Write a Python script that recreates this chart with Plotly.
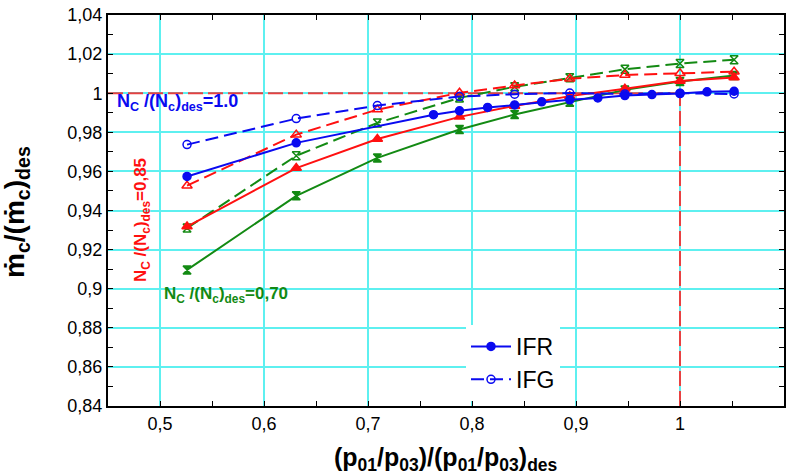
import plotly.graph_objects as go

# Pressure-ratio positions (normalised by design value)
x_blue_ifr = [0.526, 0.631, 0.763, 0.788, 0.815, 0.841, 0.867, 0.894, 0.921, 0.947, 0.973, 1.000, 1.026, 1.052]
x_common = [0.526, 0.631, 0.709, 0.788, 0.841, 0.894, 0.947, 1.000, 1.052]

# Normalised corrected mass flow, Nc/(Nc)des = 1.0
y_blue_ifr = [0.9574, 0.9746, 0.9890, 0.9910, 0.9927, 0.9940, 0.9956, 0.9966, 0.9976, 0.9988, 0.9993, 0.9998, 1.0007, 1.0010]
y_blue_ifg = [0.9737, 0.9870, 0.9937, 0.9983, 0.9995, 1.0001, 0.9996, 1.0000, 0.9996]

# Nc/(Nc)des = 0.85
y_red_ifr = [0.9318, 0.9617, 0.9766, 0.9879, 0.9935, 0.9985, 1.0023, 1.0062, 1.0080]
y_red_ifg = [0.9527, 0.9788, 0.9916, 1.0002, 1.0039, 1.0074, 1.0093, 1.0102, 1.0110]

# Nc/(Nc)des = 0.70
y_green_ifr = [0.9096, 0.9475, 0.9669, 0.9814, 0.9891, 0.9954, 1.0017, 1.0060, 1.0090]
y_green_ifg = [0.9310, 0.9680, 0.9848, 0.9976, 1.0033, 1.0079, 1.0122, 1.0152, 1.0171]

design_point = 1.0

x_tickvals = [0.5, 0.6, 0.7, 0.8, 0.9, 1.0, 1.1]
x_ticktext = ["0,5", "0,6", "0,7", "0,8", "0,9", "1", "1,1"]
y_tickvals = [0.84, 0.86, 0.88, 0.90, 0.92, 0.94, 0.96, 0.98, 1.00, 1.02, 1.04]
y_ticktext = ["0,84", "0,86", "0,88", "0,9", "0,92", "0,94", "0,96", "0,98", "1", "1,02", "1,04"]

BLUE = "#0A0AF0"
RED = "#FF1010"
GREEN = "#138A13"
GRID = "#5EF0F0"
FONT = "Arial, Liberation Sans, sans-serif"
DASH = "13px,6px"

# plot area in pixels (left, right, top, bottom)
L, R, T, B = 108, 784, 15, 406


def px(xp):
    return (xp - L) / (R - L)


def py(yp):
    return (B - yp) / (B - T)


fig = go.Figure()

# design-point guide lines
guide = dict(color="#E84040", width=2, dash="15px,5px")
fig.add_shape(type="line", x0=0.45, x1=design_point, y0=design_point, y1=design_point,
              line=guide, layer="between")
fig.add_shape(type="line", x0=design_point, x1=design_point, y0=0.84, y1=design_point,
              line=guide, layer="between")


def add(x, y, color, symbol, dash, name=None, legend=False, size=8):
    fig.add_trace(go.Scatter(
        x=x, y=y, mode="lines+markers", name=name, showlegend=legend,
        line=dict(color=color, width=2, dash=dash),
        marker=dict(symbol=symbol, size=size, color=color,
                    line=dict(color=color, width=1.5)),
    ))


add(x_common, y_green_ifr, GREEN, "hourglass", "solid")
add(x_common, y_green_ifg, GREEN, "hourglass-open", DASH)
add(x_common, y_red_ifr, RED, "triangle-up", "solid", size=9)
add(x_common, y_red_ifg, RED, "triangle-up-open", DASH, size=9)
add(x_blue_ifr, y_blue_ifr, BLUE, "circle", "solid", name="IFR", legend=True)
add(x_common, y_blue_ifg, BLUE, "circle-open", DASH, name="IFG", legend=True)

# speed-line labels
label = "<b>N<sub>C</sub> /(N<sub>c</sub>)<sub>des</sub>=%s</b>"
fig.add_annotation(xref="paper", yref="paper", x=px(115), y=py(102),
                   xanchor="left", yanchor="middle", showarrow=False,
                   text=label % "1.0", font=dict(family=FONT, size=18, color=BLUE))
fig.add_annotation(xref="paper", yref="paper", x=px(142), y=py(220),
                   xanchor="center", yanchor="middle", showarrow=False, textangle=-90,
                   text=label % "0,85", font=dict(family=FONT, size=17, color=RED))
fig.add_annotation(xref="paper", yref="paper", x=px(162), y=py(295),
                   xanchor="left", yanchor="middle", showarrow=False,
                   text=label % "0,70", font=dict(family=FONT, size=17, color=GREEN))

# axis titles
fig.add_annotation(xref="paper", yref="paper", x=px(446), y=py(459),
                   xanchor="center", yanchor="middle", showarrow=False,
                   text="<b>(p<sub>01</sub>/p<sub>03</sub>)/(p<sub>01</sub>/p<sub>03</sub>)<sub>des</sub></b>",
                   font=dict(family=FONT, size=25, color="black"))
fig.add_annotation(xref="paper", yref="paper", x=px(16), y=py(212),
                   xanchor="center", yanchor="middle", showarrow=False, textangle=-90,
                   text="<b>ṁ<sub>c</sub>/(ṁ<sub>c</sub>)<sub>des</sub></b>",
                   font=dict(family=FONT, size=28, color="black"))

axis_common = dict(
    showline=True, linecolor="black", linewidth=2, mirror="ticks",
    ticks="inside", ticklen=5, tickcolor="black", tickwidth=1,
    showgrid=True, gridcolor=GRID, gridwidth=2, zeroline=False,
    tickfont=dict(family=FONT, size=18, color="black"),
)

fig.update_xaxes(
    range=[0.45, 1.1], tickvals=x_tickvals, ticktext=x_ticktext,
    minor=dict(dtick=0.05, tick0=0.45, ticks="inside", ticklen=5, tickcolor="black", showgrid=False),
    **axis_common,
)
fig.update_yaxes(
    range=[0.84, 1.04], tickvals=y_tickvals, ticktext=y_ticktext,
    minor=dict(dtick=0.01, tick0=0.84, ticks="inside", ticklen=5, tickcolor="black", showgrid=False),
    **axis_common,
)

fig.update_layout(
    width=794, height=474,
    margin=dict(l=L, r=794 - R, t=T, b=474 - B, autoexpand=False),
    paper_bgcolor="white", plot_bgcolor="white",
    showlegend=True,
    legend=dict(x=px(466), y=py(325), xanchor="left", yanchor="top",
                bgcolor="white", borderwidth=0,
                font=dict(family=FONT, size=23, color="black"),
                itemwidth=40, tracegroupgap=0),
)

fig.write_html("out.html")
